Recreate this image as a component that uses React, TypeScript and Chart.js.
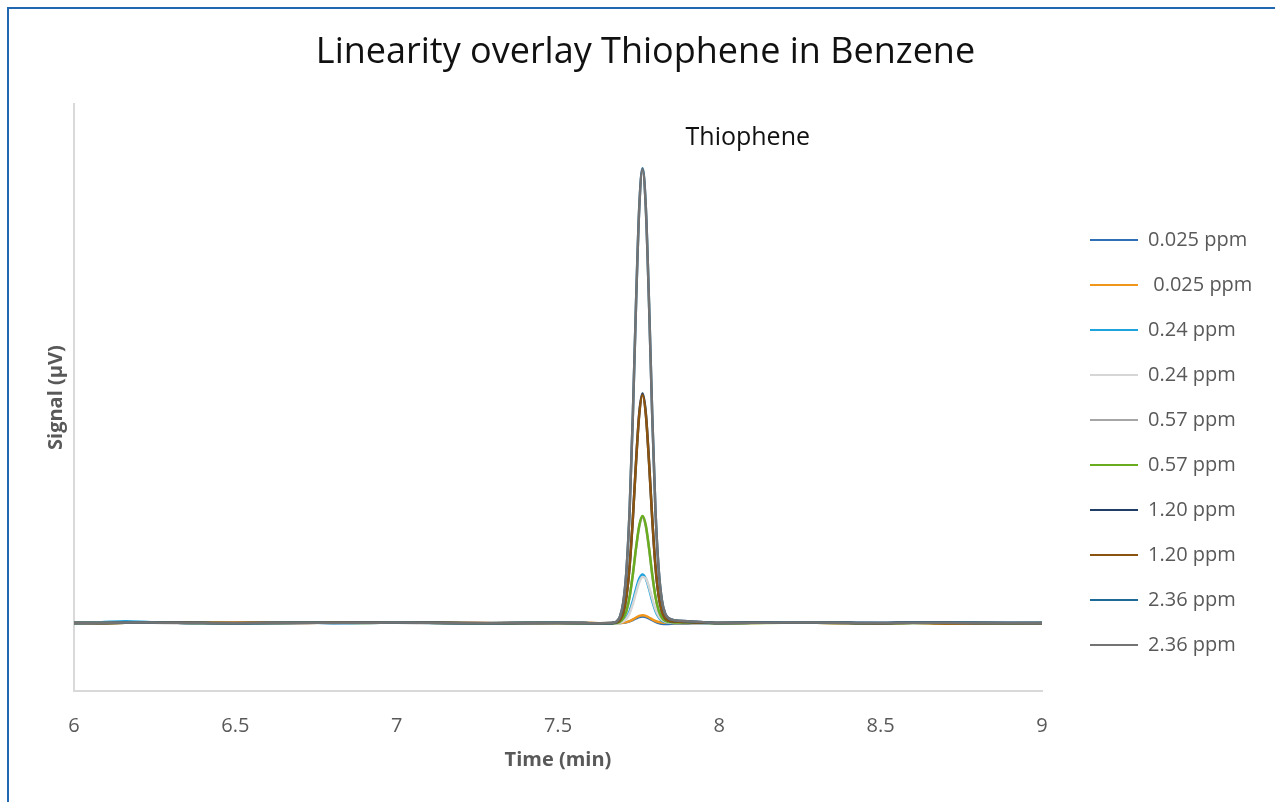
import React, { useEffect, useRef } from "react";
import { Chart, registerables } from "chart.js";

Chart.register(...registerables);

const FONT = "'Open Sans', sans-serif";

const chartTitle = "Linearity overlay Thiophene in Benzene";
const xTitle = "Time (min)";
const yTitle = "Signal (µV)";
const peakName = "Thiophene";
const peakTime = 7.762;

const xMin = 6;
const xMax = 9;
const xStep = 0.5;
const yMin = -680;
const yMax = 5190;

const times = [
  6.0, 6.08, 6.16, 6.24, 6.32, 6.4, 6.5, 6.6, 6.7, 6.8, 6.9, 7.0, 7.1, 7.2, 7.3, 7.4, 7.5, 7.58, 7.63,
  7.662, 7.672, 7.682, 7.692, 7.702, 7.712, 7.722, 7.732, 7.742, 7.752, 7.762, 7.772, 7.782, 7.792, 7.802,
  7.812, 7.822, 7.832, 7.842, 7.862, 7.902, 7.952,
  8.0, 8.1, 8.2, 8.3, 8.4, 8.5, 8.6, 8.7, 8.8, 8.9, 9.0,
];

const seriesLabels = [
  "0.025 ppm",
  " 0.025 ppm",
  "0.24 ppm",
  "0.24 ppm",
  "0.57 ppm",
  "0.57 ppm",
  "1.20 ppm",
  "1.20 ppm",
  "2.36 ppm",
  "2.36 ppm",
];

const seriesColors = [
  "#2f70b4",
  "#f0961b",
  "#1fa3dd",
  "#d6d6d6",
  "#a6a6a6",
  "#6aac1f",
  "#1f3d66",
  "#8a5310",
  "#1e6a96",
  "#737373",
];

const s1 = [
  0, 3, 8, 4, 2, 0, -3, 2, 4, 1, 0, 5, 3, -2, -4, 0, 2, -2, -4,
  0, 0, 0, 1, 3, 7, 16, 30, 46, 60, 65, 60, 46, 28, 12, 0, -7, -10, -9, -6, -4, -2,
  -2, 2, 8, 6, 2, -1, 4, 6, 2, 1, 0,
];
const s2 = [
  0, -2, 2, 5, 3, 1, 4, 3, -1, 4, 6, 8, 4, 1, -2, -1, 2, 1, -3,
  -2, -1, 0, 1, 3, 9, 19, 36, 55, 72, 78, 72, 55, 36, 20, 10, 5, 3, 2, 1, 0, -1,
  0, 1, 4, 3, -2, -4, 3, -6, -5, -4, -3,
];
const s3 = [
  0, 6, 18, 8, 3, -2, -4, 1, 3, 0, 2, 4, 1, -3, -1, 2, 3, 0, -3,
  -2, -1, 1, 6, 21, 55, 121, 222, 343, 445, 485, 445, 343, 222, 121, 57, 24, 10, 5, 3, 2, 1,
  -1, 3, 7, 5, 1, -2, 2, 3, 0, 0, 1,
];
const s4 = [
  1, 2, 5, 6, 1, -3, -6, -1, 2, 3, 1, 3, 0, -2, -3, 1, 2, -1, -4,
  -3, -2, 0, 4, 15, 43, 99, 189, 304, 410, 460, 448, 362, 248, 140, 70, 32, 14, 7, 4, 2, 1,
  0, 2, 5, 4, 1, -1, 1, 2, 1, 0, 0,
];
const s5 = [
  0, 1, 4, 3, 0, -2, -5, -2, 1, 2, 2, 2, -1, -3, -2, 0, 1, -1, -3,
  -2, 0, 3, 14, 46, 120, 263, 483, 746, 967, 1055, 967, 746, 483, 263, 124, 53, 22, 12, 6, 4, 2,
  0, 1, 4, 3, 0, -2, 1, 2, 0, -1, 0,
];
const s6 = [
  -1, 0, 3, 2, 2, 0, -2, 0, 3, 2, 1, 3, 2, -1, -3, 0, 1, -2, -5,
  -4, -2, 2, 13, 47, 122, 266, 490, 756, 981, 1070, 981, 756, 490, 266, 126, 54, 22, 12, 6, 4, 2,
  -3, 0, 3, 2, -1, -3, 0, 1, -1, -2, -1,
];
const s7 = [
  0, -2, 2, 3, 5, 2, -1, 1, 0, 3, 4, 6, 3, 0, -2, -1, 1, -1, -3,
  -2, 1, 8, 32, 101, 262, 571, 1051, 1623, 2105, 2295, 2105, 1623, 1051, 571, 271, 115, 48, 25, 14, 9, 5,
  1, 3, 6, 5, 2, 0, 5, 4, 2, 1, 1,
];
const s8 = [
  0, -1, 3, 4, 4, 3, 1, 2, 2, 4, 5, 7, 4, 1, -1, 0, 1, 0, -2,
  -1, 1, 8, 31, 100, 260, 568, 1044, 1612, 2091, 2280, 2091, 1612, 1044, 568, 269, 114, 48, 25, 14, 9, 5,
  1, 2, 4, 3, -1, -4, 2, -4, -4, -3, -2,
];
const s9 = [
  0, 2, 6, 5, 2, -1, -4, 0, 2, 1, 2, 5, 2, -2, -3, 1, 2, -1, -3,
  -2, 3, 17, 64, 200, 519, 1133, 2084, 3217, 4172, 4550, 4172, 3217, 2084, 1133, 537, 228, 96, 50, 27, 18, 9,
  0, 3, 7, 5, 2, 0, 4, 3, 1, 1, 1,
];
const s10 = [
  0, 1, 5, 4, 3, 0, -3, 1, 2, 2, 3, 4, 2, -1, -2, 0, 1, -1, -2,
  -1, 3, 17, 64, 200, 518, 1130, 2079, 3210, 4163, 4540, 4163, 3210, 2079, 1130, 536, 227, 95, 50, 27, 18, 9,
  0, 2, 5, 4, 1, -1, 2, 2, 1, 0, 0,
];

const seriesValues = [s1, s2, s3, s4, s5, s6, s7, s8, s9, s10];

const peakLabelPlugin = {
  id: "peakLabel",
  afterDatasetsDraw(chart: any) {
    const { ctx, scales } = chart;
    const px = scales.x.getPixelForValue(peakTime);
    const py = scales.y.getPixelForValue(Math.max(...s10));
    ctx.save();
    ctx.font = `25px ${FONT}`;
    ctx.fillStyle = "#111111";
    ctx.textAlign = "left";
    ctx.textBaseline = "middle";
    ctx.fillText(peakName, px + 43, py - 31);
    ctx.restore();
  },
};

const W = 1275;
const LEGEND_LEFT = 1065;
const LEGEND_FONT = 20;
const LEGEND_BOX = 48;
const LEGEND_PAD = 25;
const PLOT_LEFT = 74;

export default function App() {
  const ref = useRef<HTMLCanvasElement>(null);

  useEffect(() => {
    if (!ref.current) return;
    Chart.defaults.font.family = FONT;

    // measure the legend width the way Chart.js will, to place it exactly
    const mctx = document.createElement("canvas").getContext("2d")!;
    mctx.font = `normal ${LEGEND_FONT}px ${FONT}`;
    const maxText = Math.max(...seriesLabels.map((t) => mctx.measureText(t).width));
    const legendW = LEGEND_PAD + LEGEND_BOX + LEGEND_FONT / 2 + maxText + 10;
    const padR = Math.max(0, W - LEGEND_LEFT - legendW);
    const padL = 16 + padR;

    const datasets = seriesValues.map((vals, i) => ({
      label: seriesLabels[i],
      data: vals.map((v, j) => ({ x: times[j], y: v })),
      borderColor: seriesColors[i],
      backgroundColor: seriesColors[i],
      borderWidth: 2.5,
      pointRadius: 0,
      fill: false,
      cubicInterpolationMode: "monotone" as const,
      order: seriesValues.length - i,
    }));

    const chart = new Chart(ref.current, {
      type: "line",
      data: { datasets },
      options: {
        responsive: false,
        animation: false,
        layout: { padding: { left: padL, right: padR, top: 8, bottom: 20 } },
        scales: {
          x: {
            type: "linear",
            min: xMin,
            max: xMax,
            ticks: {
              stepSize: xStep,
              color: "#595959",
              font: { size: 20, family: FONT },
              padding: 23,
              callback: (v: any) => String(Number(v)),
            },
            grid: { display: false, drawTicks: false },
            border: { display: true, color: "#d9d9d9", width: 2 },
            title: {
              display: true,
              text: xTitle,
              color: "#595959",
              font: { size: 20, weight: "bold", family: FONT },
              padding: { top: 0, bottom: 10 },
            },
            afterFit: (s: any) => {
              s.height = 91;
            },
          },
          y: {
            type: "linear",
            position: "left",
            min: yMin,
            max: yMax,
            ticks: { display: false },
            grid: { display: false, drawTicks: false },
            border: { display: true, color: "#d9d9d9", width: 2 },
            title: {
              display: true,
              text: yTitle,
              color: "#595959",
              font: { size: 20, weight: "bold", family: FONT },
              padding: { top: Math.max(0, 56 - padL - 12), bottom: 0 },
            },
            afterFit: (s: any) => {
              s.width = PLOT_LEFT - padL;
            },
          },
          yGap: {
            type: "linear",
            axis: "y",
            position: "right",
            weight: 0,
            ticks: { display: false },
            grid: { display: false, drawTicks: false },
            border: { display: false },
            afterFit: (s: any) => {
              s.width = 23;
            },
          },
        } as any,
        plugins: {
          title: {
            display: true,
            text: chartTitle,
            color: "#111111",
            font: { size: 36, weight: "normal", family: FONT },
            padding: { top: 23, bottom: 30 },
          },
          legend: {
            position: "right",
            align: "center",
            fullSize: false,
            title: {
              display: true,
              text: " ",
              font: { size: 10, lineHeight: 1 },
              padding: { top: 80, bottom: 0 },
            },
            labels: {
              boxWidth: LEGEND_BOX,
              boxHeight: 2,
              padding: LEGEND_PAD,
              color: "#595959",
              font: { size: LEGEND_FONT, family: FONT },
              generateLabels: (c: any) =>
                Chart.defaults.plugins.legend.labels
                  .generateLabels(c)
                  .map((it: any) => ({ ...it, lineWidth: 0, fillStyle: it.strokeStyle })),
              sort: (a: any, b: any) => a.datasetIndex - b.datasetIndex,
            },
          } as any,
          tooltip: { enabled: false },
        },
      },
      plugins: [peakLabelPlugin],
    });
    return () => chart.destroy();
  }, []);

  return (
    <div style={{ position: "absolute", left: 0, top: 0, width: 1275, height: 802, background: "#ffffff" }}>
      <div
        style={{
          position: "absolute",
          left: 7,
          top: 7,
          width: 1268,
          height: 795,
          borderLeft: "2px solid #2068b0",
          borderTop: "2px solid #2068b0",
          boxSizing: "border-box",
        }}
      />
      <canvas
        ref={ref}
        width={1275}
        height={802}
        style={{ position: "absolute", left: 0, top: 0, display: "block" }}
      />
    </div>
  );
}
